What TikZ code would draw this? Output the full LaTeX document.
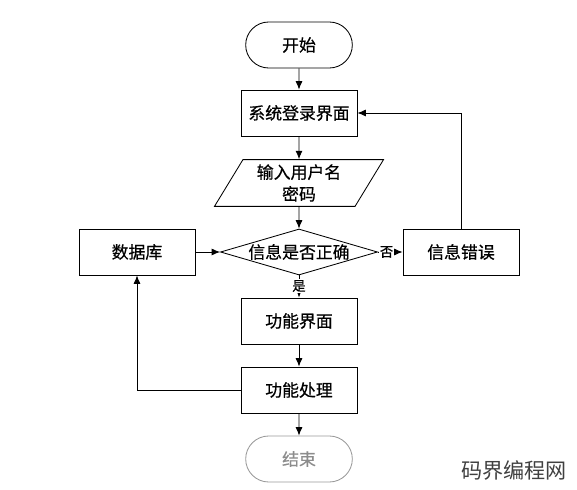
\documentclass[tikz,border=0pt]{standalone}
\usepackage{fontspec}
\newfontfamily\cjk[FakeBold=0.6]{Noto Sans CJK SC}
\newfontfamily\cjkthin{Noto Sans CJK SC}
\usetikzlibrary{arrows.meta, shapes.geometric, shapes.misc, positioning}

\begin{document}
\begin{tikzpicture}[x=0.025cm, y=-0.025cm,
    font=\cjk\fontsize{12}{15.5}\selectfont,
    line width=0.6pt,
    >={Latex[length=6pt,width=5pt]},
    procbox/.style={draw, rectangle, minimum width=2.9cm, minimum height=1.15cm},
    termbox/.style={draw, rounded rectangle, minimum width=2.9cm, minimum height=1.15cm},
    iobox/.style={draw, trapezium, trapezium left angle=63, trapezium right angle=117,
        trapezium stretches=true, minimum width=4.25cm, minimum height=1.1cm, align=center},
    askbox/.style={draw, diamond, aspect=3.4, inner sep=0pt, minimum width=3.925cm, minimum height=1.15cm},
    yesno/.style={fill=white, inner sep=0.5pt, font=\cjk\fontsize{9.5}{11}\selectfont}]
    \useasboundingbox (0,0) rectangle (577,490);
    % main column
    \coordinate (cStart) at (299,45);
    \coordinate (cLogin) at (299,113);
    \coordinate (cInput) at (299,183);
    \coordinate (cCheck) at (299,252);
    \coordinate (cFunc) at (299,321);
    \coordinate (cProc) at (299,390);
    \coordinate (cEnd) at (299,459);
    % side boxes
    \coordinate (cDb) at (137,252);
    \coordinate (cErr) at (461,252);

    \node[termbox] (nStart) at (cStart) {开始};
    \node[procbox] (nLogin) at (cLogin) {系统登录界面};
    \node[iobox] (nInput) at (cInput) {输入用户名\\密码};
    \node[askbox] (nCheck) at (cCheck) {信息是否正确};
    \node[procbox] (nDb) at (cDb) {数据库};
    \node[procbox] (nErr) at (cErr) {信息错误};
    \node[procbox] (nFunc) at (cFunc) {功能界面};
    \node[procbox] (nProc) at (cProc) {功能处理};
    \node[termbox, draw=black!40, text=black!45] (nEnd) at (cEnd) {结束};

    \draw[->] (nStart) -- (nLogin);
    \draw[->] (nLogin) -- (nInput);
    \draw[->] (nInput) -- (nCheck);
    \draw[->] (nDb) -- (nCheck);
    \draw[->] (nCheck) -- node[yesno, pos=0.35] {否} (nErr);
    \draw[->] (nCheck) -- node[yesno, pos=0.48] {是} (nFunc);
    \draw[->] (nFunc) -- (nProc);
    \draw[->] (nProc) -- (nEnd);
    \draw[->] (nErr) |- (nLogin);
    \draw[->] (nProc) -| (nDb);

    \node[text=black!75, font=\cjkthin\fontsize{15}{17}\selectfont] (nMark) at (514,470) {码界编程网};
\end{tikzpicture}
\end{document}
